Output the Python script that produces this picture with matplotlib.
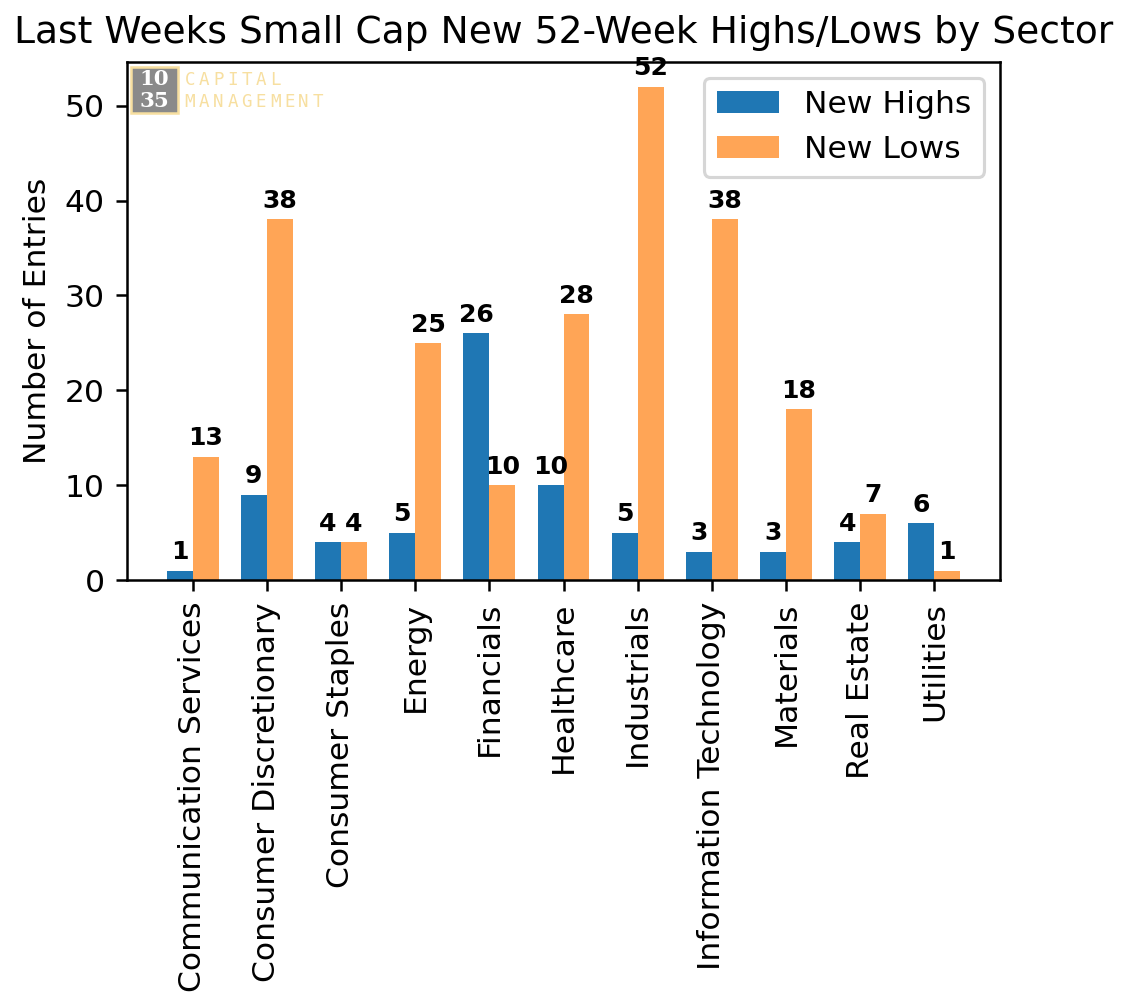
import matplotlib.pyplot as plt
import matplotlib.patches as patches
import numpy as np

sectors = ['Communication Services', 'Consumer Discretionary', 'Consumer Staples', 'Energy',
           'Financials', 'Healthcare', 'Industrials', 'Information Technology',
           'Materials', 'Real Estate', 'Utilities']
new_highs = [1, 9, 4, 5, 26, 10, 5, 3, 3, 4, 6]
new_lows = [13, 38, 4, 25, 10, 28, 52, 38, 18, 7, 1]

W, H, DPI = 1126, 994, 226
fig = plt.figure(figsize=(W / DPI, H / DPI), dpi=DPI)
ax = fig.add_axes([127 / W, 1 - 580 / H, 873 / W, 518 / H])

x = np.arange(len(sectors))
width = 0.35
b1 = ax.bar(x - width/2, new_highs, width, label='New Highs', color='tab:blue')
b2 = ax.bar(x + width/2, new_lows, width, label='New Lows', color='tab:orange', alpha=0.7)
ax.bar_label(b1, fontsize=8, fontweight='bold', padding=2)
ax.bar_label(b2, fontsize=8, fontweight='bold', padding=2)

ax.set_xticks(x)
ax.set_xticklabels(sectors, rotation=90)
ax.set_ylabel('Number of Entries')
ax.set_title('Last Weeks Small Cap New 52-Week Highs/Lows by Sector')
ax.legend()

# logo (top left), placed in figure pixels
def fx(px):
    return px / W

def fy(py):
    return 1 - py / H

gold = '#f7dfa0'
box = patches.Rectangle((fx(131), fy(113)), fx(47), 46 / H, transform=fig.transFigure,
                        facecolor='#8a8a8a', edgecolor=gold, linewidth=0.8, zorder=5)
fig.patches.append(box)
fig.text(fx(154.5), fy(79), '10', ha='center', va='center', family='DejaVu Serif',
         fontweight='bold', fontsize=6.8, color='white', zorder=6)
fig.text(fx(154.5), fy(101), '35', ha='center', va='center', family='DejaVu Serif',
         fontweight='bold', fontsize=6.8, color='white', zorder=6)
for row, word in [(80, 'CAPITAL'), (102, 'MANAGEMENT')]:
    for i, ch in enumerate(word):
        fig.text(fx(190 + 14.2 * i), fy(row), ch, ha='center', va='center',
                 family='DejaVu Sans Mono', fontsize=5.6, color=gold, zorder=6)

fig.savefig('out.png', dpi=DPI)
